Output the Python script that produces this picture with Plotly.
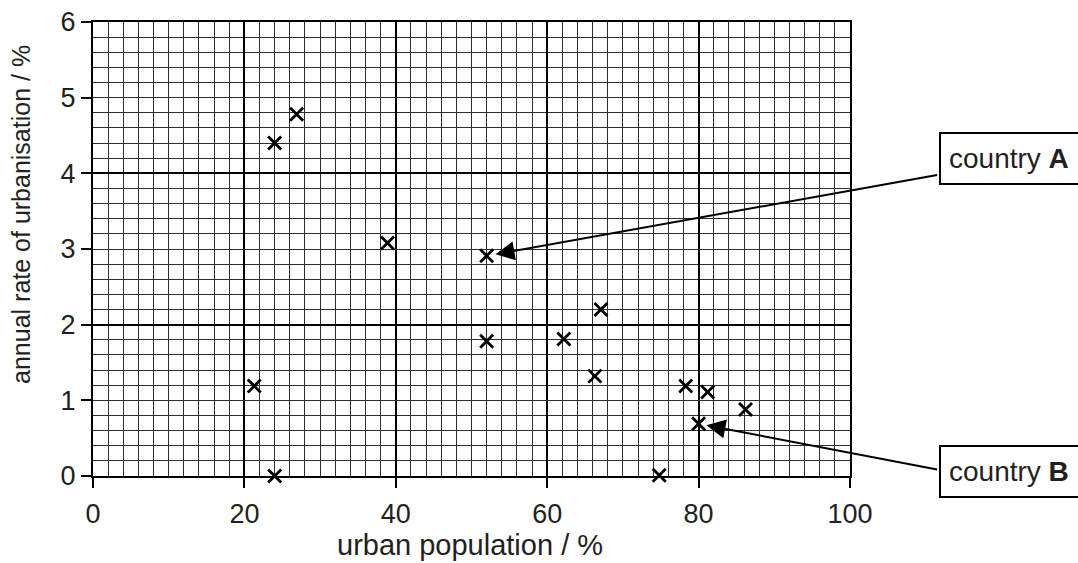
import plotly.graph_objects as go

# data
urban_pop = [21.3, 24.0, 24.0, 26.9, 38.9, 52.0, 52.0, 62.2, 67.1, 66.3, 74.8, 78.3, 81.2, 80.0, 86.2]
urban_rate = [1.19, 0.0, 4.40, 4.78, 3.08, 2.91, 1.78, 1.81, 2.20, 1.32, 0.01, 1.19, 1.11, 0.69, 0.88]
x_ticks = [0, 20, 40, 60, 80, 100]
y_ticks = [0, 1, 2, 3, 4, 5, 6]
country_a = (52.0, 2.91)
country_b = (80.0, 0.69)

FONT = "Liberation Sans, Arial, Helvetica, sans-serif"
TXT = "#231f20"

fig = go.Figure()
fig.add_trace(go.Scatter(
    x=urban_pop, y=urban_rate, mode="markers",
    marker=dict(symbol="x-thin-open", size=13, line=dict(width=2.8, color="black"), color="black"),
    showlegend=False, hoverinfo="skip", cliponaxis=False,
))
# invisible trace on overlay axis for heavy horizontal grid every 2 units
fig.add_trace(go.Scatter(x=[0], y=[0], yaxis="y2", mode="markers",
                         marker=dict(opacity=0), showlegend=False, hoverinfo="skip"))

fig.update_layout(
    width=1078, height=563,
    margin=dict(l=93, r=228, t=22, b=87, autoexpand=False),
    paper_bgcolor="white", plot_bgcolor="white",
    font=dict(family=FONT, color=TXT, size=24),
    xaxis=dict(
        range=[0, 100], tickvals=x_ticks, ticks="outside", ticklen=10, tickwidth=2, tickcolor="black",
        ticklabelstandoff=3,
        showgrid=True, gridcolor="black", gridwidth=2,
        minor=dict(dtick=2, showgrid=True, gridcolor="#2e2e2e", gridwidth=1.2),
        showline=True, linecolor="black", linewidth=2, mirror=True, zeroline=False,
        tickfont=dict(size=27, family=FONT, color=TXT),
    ),
    yaxis=dict(
        range=[0, 6], tickvals=y_ticks, ticks="outside", ticklen=10, tickwidth=2, tickcolor="black",
        showgrid=True, gridcolor="#2e2e2e", gridwidth=1.2,
        minor=dict(dtick=0.2, showgrid=True, gridcolor="#2e2e2e", gridwidth=1.2),
        showline=True, linecolor="black", linewidth=2, mirror=True, zeroline=False,
        tickfont=dict(size=27, family=FONT, color=TXT),
    ),
    yaxis2=dict(
        range=[0, 6], overlaying="y", dtick=2, showgrid=True, gridcolor="black", gridwidth=2,
        showticklabels=False, zeroline=False, ticks="",
    ),
)

annotations = [
    dict(text="urban population / %", xref="paper", yref="paper", x=0.498, y=-0.152,
         xanchor="center", yanchor="middle",
         showarrow=False, font=dict(size=29, family=FONT, color=TXT)),
    dict(text="annual rate of urbanisation / %", xref="paper", yref="paper", x=-0.0951, y=0.575,
         xanchor="center", yanchor="middle",
         textangle=-90, showarrow=False, font=dict(size=25, family=FONT, color=TXT)),
    dict(x=country_a[0], y=country_a[1], xref="x", yref="y", text="", showarrow=True,
         ax=452, ay=-81, arrowhead=2, arrowsize=1.9, arrowwidth=2, arrowcolor="black", standoff=9),
    dict(x=country_b[0], y=country_b[1], xref="x", yref="y", text="", showarrow=True,
         ax=240, ay=46, arrowhead=2, arrowsize=1.9, arrowwidth=2, arrowcolor="black", standoff=8),
    dict(text="country <b>A</b>", xref="paper", yref="paper", x=1.1176, y=0.699,
         xanchor="left", yanchor="middle", showarrow=False, align="left",
         width=200, height=33, borderpad=8, borderwidth=2, bordercolor="black", bgcolor="white",
         font=dict(size=28, family=FONT, color=TXT)),
    dict(text="country <b>B</b>", xref="paper", yref="paper", x=1.1176, y=0.011,
         xanchor="left", yanchor="middle", showarrow=False, align="left",
         width=200, height=33, borderpad=8, borderwidth=2, bordercolor="black", bgcolor="white",
         font=dict(size=28, family=FONT, color=TXT)),
]
fig.update_layout(annotations=annotations)

fig.write_html("out.html", config={"displayModeBar": False},
               post_script="document.body.style.margin='0px';")
